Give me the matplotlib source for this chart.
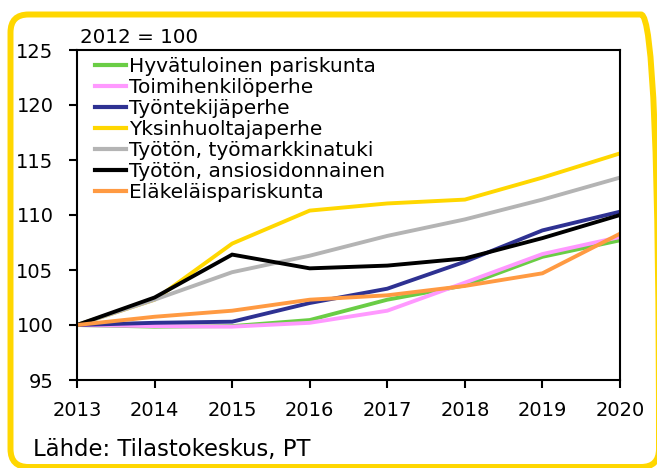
"""Toimeentulotuen kehitys kotitaloustyypeittäin, 2012 = 100."""

import matplotlib
matplotlib.use('Agg')
import matplotlib.pyplot as plt
from matplotlib.patches import FancyBboxPatch
from matplotlib.transforms import IdentityTransform

plt.rcParams['font.family'] = ['DejaVu Sans']

YEARS = [2013, 2014, 2015, 2016, 2017, 2018, 2019, 2020]

HYVATULOINEN = [100, 99.85, 99.9, 100.45, 102.3, 103.6, 106.2, 107.7]
TOIMIHENKILO = [100, 99.9, 99.85, 100.2, 101.3, 103.85, 106.45, 108.0]
TYONTEKIJA = [100, 100.2, 100.3, 102.0, 103.3, 105.75, 108.6, 110.3]
YKSINHUOLTAJA = [100, 102.3, 107.4, 110.4, 111.05, 111.4, 113.4, 115.6]
TYOMARKKINATUKI = [100, 102.3, 104.8, 106.3, 108.1, 109.6, 111.4, 113.4]
ANSIOSIDONNAINEN = [100, 102.5, 106.4, 105.15, 105.4, 106.05, 107.9, 110.0]
ELAKELAIS = [100, 100.75, 101.3, 102.3, 102.7, 103.55, 104.7, 108.3]

SERIES = [
    ('Hyvätuloinen pariskunta', HYVATULOINEN, '#6ACD45'),
    ('Toimihenkilöperhe', TOIMIHENKILO, '#FF99FF'),
    ('Työntekijäperhe', TYONTEKIJA, '#2E3192'),
    ('Yksinhuoltajaperhe', YKSINHUOLTAJA, '#FFD700'),
    ('Työtön, työmarkkinatuki', TYOMARKKINATUKI, '#B4B4B4'),
    ('Työtön, ansiosidonnainen', ANSIOSIDONNAINEN, '#000000'),
    ('Eläkeläispariskunta', ELAKELAIS, '#FF9A42'),
]

W, H = 657, 468


def main():
    fig = plt.figure(figsize=(W / 100, H / 100), dpi=100)
    ax = fig.add_axes([77 / W, 1 - 380 / H, (620 - 77) / W, (380 - 50) / H])

    for label, values, color in SERIES:
        ax.plot(YEARS, values, color=color, lw=2.8, label=label,
                solid_joinstyle='miter')

    ax.set_xlim(2013, 2020)
    ax.set_ylim(95, 125)
    ax.set_xticks(YEARS)
    ax.set_yticks(range(95, 126, 5))
    ax.tick_params(direction='out', length=6, width=1.5, labelsize=14,
                   colors='black')
    ax.tick_params(axis='y', pad=11)
    ax.tick_params(axis='x', pad=9)
    for spine in ax.spines.values():
        spine.set_linewidth(1.5)
        spine.set_color('black')

    leg = ax.legend(loc='upper left', bbox_to_anchor=(0.02, 1.0),
                    frameon=False, fontsize=14.5, borderpad=0.35,
                    labelspacing=0.1, handlelength=1.55,
                    handletextpad=0.15, borderaxespad=0)
    for line in leg.get_lines():
        line.set_linewidth(3)

    fig.text(80 / W, 1 - 43 / H, '2012 = 100', fontsize=14.3,
             va='baseline', ha='left')
    fig.text(33 / W, 1 - 456 / H, 'Lähde: Tilastokeskus, PT',
             fontsize=16.4, va='baseline', ha='left')

    # keltainen pyöristetty kehys, pikseleinä
    frame = FancyBboxPatch((10.5, 1), 659 - 10.5, 453.5 - 1,
                           boxstyle='round,pad=0,rounding_size=18',
                           transform=IdentityTransform(), fill=False,
                           edgecolor='#FFD700', lw=4.3, clip_on=False)
    fig.patches.append(frame)

    fig.savefig('out.png', dpi=100)


if __name__ == '__main__':
    main()
